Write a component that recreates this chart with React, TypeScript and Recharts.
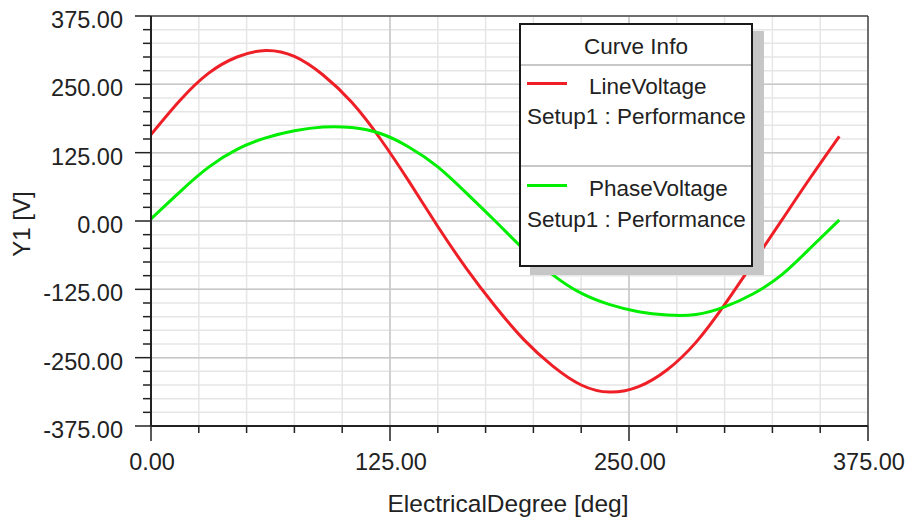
import React from 'react';
import { LineChart, Line, XAxis, YAxis, CartesianGrid, ReferenceLine } from 'recharts';

/* values */
const degrees = [0, 15, 30, 45, 60, 75, 90, 105, 120, 135, 150, 165, 180, 195, 210, 225, 240, 255, 270, 285, 300, 315, 330, 345, 360];
const lineVoltage = [158, 220, 270, 300, 312, 301, 267, 217, 150, 72, -10, -87, -156, -217, -265, -300, -313, -303, -272, -222, -153, -76, 2, 80, 155];
const phaseVoltage = [4, 53, 98, 131, 152, 165, 172, 171, 160, 135, 99, 51, 0, -52, -98, -132, -153, -166, -172, -171, -157, -133, -98, -49, 2];

const xTicks = [0, 25, 50, 75, 100, 125, 150, 175, 200, 225, 250, 275, 300, 325, 350, 375];
const yTicks = [-375, -350, -325, -300, -275, -250, -225, -200, -175, -150, -125, -100, -75, -50, -25, 0, 25, 50, 75, 100, 125, 150, 175, 200, 225, 250, 275, 300, 325, 350, 375];
const xMajor = [125, 250];
const yMajor = [-250, -125, 0, 125, 250];

const data = degrees.map((d, i) => ({ deg: d, line: lineVoltage[i], phase: phaseVoltage[i] }));

const FONT = "Arial, 'Liberation Sans', sans-serif";
const INK = '#222222';
const RED = '#ee1f26';
const GREEN = '#00ee00';

const XTick = ({ x, y, payload }: any) => {
  const v = payload.value;
  const major = v % 125 === 0;
  return (
    <g>
      <line x1={x} x2={x} y1={y} y2={y + (major ? 15 : 7)} stroke={INK} strokeWidth={1.5} />
      {major && (
        <text x={x + 1} y={y + 44} textAnchor="middle" fontSize={23.5} fontFamily={FONT} fill={INK}>
          {v.toFixed(2)}
        </text>
      )}
    </g>
  );
};

const YTick = ({ x, y, payload }: any) => {
  const v = payload.value;
  const major = v % 125 === 0;
  return (
    <g>
      <line x1={x - (major ? 16 : 8)} x2={x} y1={y} y2={y} stroke={INK} strokeWidth={1.5} />
      {major && (
        <text x={x - 28} y={y + 12} textAnchor="end" fontSize={23.5} fontFamily={FONT} fill={INK}>
          {v.toFixed(2)}
        </text>
      )}
    </g>
  );
};

const txt = (fs: number): React.CSSProperties => ({
  position: 'absolute', fontSize: fs, lineHeight: 1, fontFamily: FONT, color: INK, whiteSpace: 'nowrap',
});

function CurveInfo() {
  // positions are relative to the padding box (border 2px)
  const sample = (top: number, color: string) => (
    <div style={{ position: 'absolute', left: 6, top: top - 1.5, width: 40, height: 3, background: color }} />
  );
  const sep = (top: number) => (
    <div style={{ position: 'absolute', left: 0, right: 0, top, height: 1.5, background: '#c8c8c8' }} />
  );
  return (
    <div style={{
      position: 'absolute', left: 519, top: 23, width: 234, height: 244, boxSizing: 'border-box',
      border: '2px solid #1a1a1a', background: '#fff', boxShadow: '11px 8px 0 0 #c6c6c6',
    }}>
      <div style={{ ...txt(22.5), left: 0, right: 0, top: 11, textAlign: 'center' }}>Curve Info</div>
      {sep(39)}
      {sample(58, RED)}
      <div style={{ ...txt(22.5), left: 68, top: 51 }}>LineVoltage</div>
      <div style={{ ...txt(22.5), left: 6, top: 81 }}>Setup1 : Performance</div>
      {sep(140)}
      {sample(160, GREEN)}
      <div style={{ ...txt(22.5), left: 68, top: 153 }}>PhaseVoltage</div>
      <div style={{ ...txt(22.5), left: 6, top: 184 }}>Setup1 : Performance</div>
    </div>
  );
}

export default function App() {
  return (
    <div style={{ position: 'absolute', left: 0, top: 0, width: 908, height: 518, background: '#fff' }}>
      <LineChart width={908} height={518} data={data} margin={{ top: 16, right: 40, bottom: 0, left: 0 }}>
        <CartesianGrid stroke="#e6e6e6" strokeWidth={1.5} />
        {xMajor.map((v) => (
          <ReferenceLine key={`x${v}`} x={v} stroke="#c8c8c8" strokeWidth={1.5} />
        ))}
        {yMajor.map((v) => (
          <ReferenceLine key={`y${v}`} y={v} stroke="#c8c8c8" strokeWidth={1.5} />
        ))}
        <ReferenceLine y={375} stroke="#444" strokeWidth={1.5} />
        <ReferenceLine x={375} stroke="#444" strokeWidth={1.5} />
        <XAxis
          dataKey="deg" type="number" domain={[0, 375]} ticks={xTicks} interval={0} height={92}
          tickSize={0} tickMargin={0} tickLine={false} axisLine={{ stroke: INK, strokeWidth: 2 }}
          tick={(p: any) => <XTick {...p} />}
        />
        <YAxis
          type="number" domain={[-375, 375]} ticks={yTicks} interval={0} width={151}
          tickSize={0} tickMargin={0} tickLine={false} axisLine={{ stroke: INK, strokeWidth: 2 }}
          tick={(p: any) => <YTick {...p} />}
        />
        <Line dataKey="line" type="natural" stroke={RED} strokeWidth={3} dot={false} isAnimationActive={false} />
        <Line dataKey="phase" type="natural" stroke={GREEN} strokeWidth={3} dot={false} isAnimationActive={false} />
      </LineChart>
      <div style={{ ...txt(24), left: 22, top: 224, transform: 'translate(-50%, -50%) rotate(-90deg)' }}>Y1 [V]</div>
      <div style={{ ...txt(24.5), left: 508, top: 492, transform: 'translateX(-50%)' }}>ElectricalDegree [deg]</div>
      <CurveInfo />
    </div>
  );
}
